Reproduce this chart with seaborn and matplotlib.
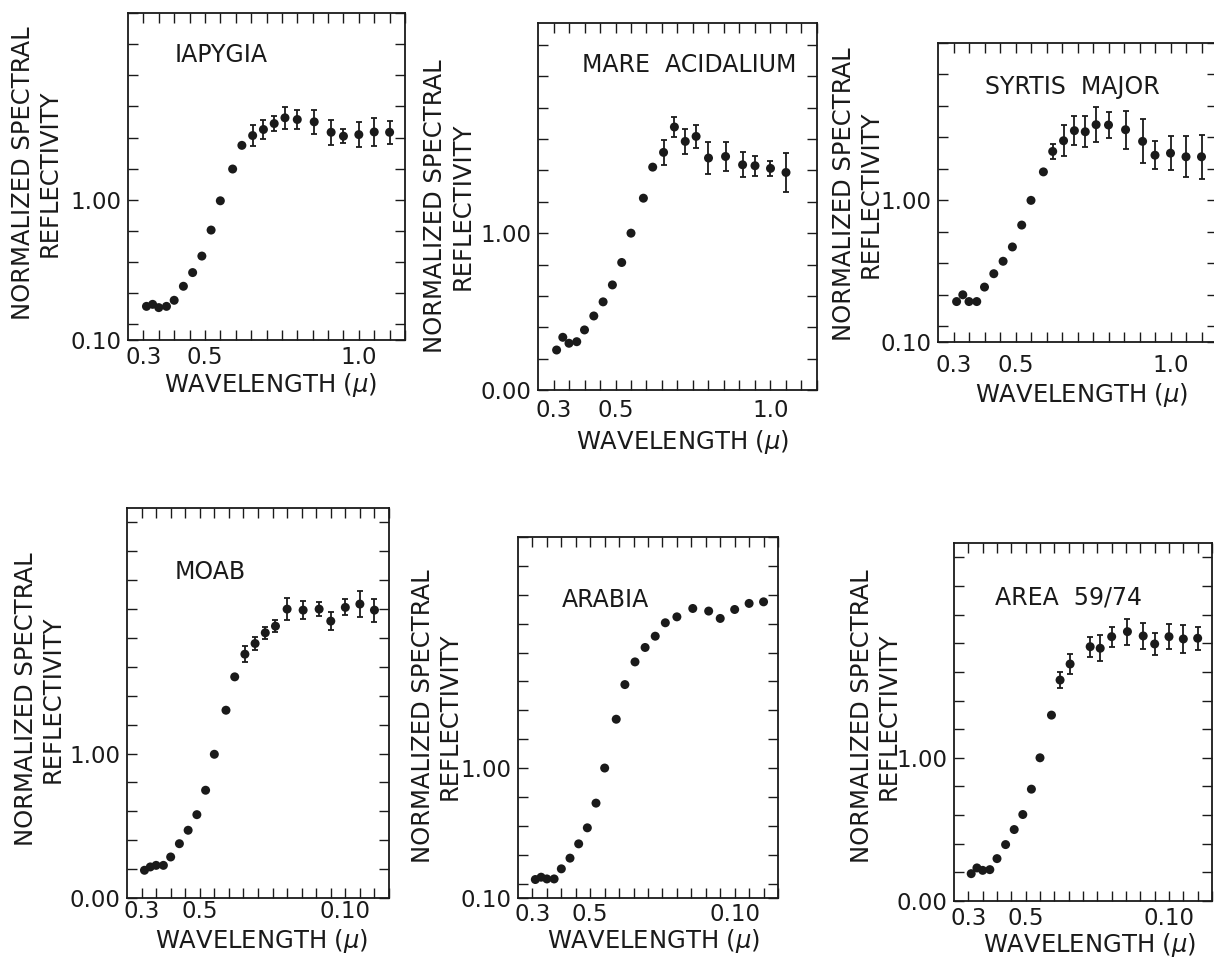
import numpy as np
import pandas as pd
import matplotlib
matplotlib.use("Agg")
import matplotlib.pyplot as plt
import seaborn as sns

# ---------------- data ----------------
wl_full = [0.31, 0.33, 0.35, 0.375, 0.40, 0.43, 0.46, 0.49, 0.52, 0.55, 0.59, 0.62,
           0.655, 0.69, 0.725, 0.76, 0.80, 0.855, 0.91, 0.95, 1.00, 1.05, 1.10]

iapygia_wl = wl_full
iapygia_refl = [0.316, 0.329, 0.308, 0.316, 0.355, 0.445, 0.533, 0.639, 0.806, 0.994, 1.198, 1.350,
                1.413, 1.452, 1.490, 1.527, 1.516, 1.501, 1.434, 1.409, 1.419, 1.436, 1.434]
iapygia_err = [0] * 12 + [0.065, 0.06, 0.05, 0.07, 0.06, 0.075, 0.08, 0.045, 0.08, 0.09, 0.075]

acidalium_wl = wl_full[:-1]
acidalium_refl = [0.255, 0.336, 0.298, 0.308, 0.383, 0.472, 0.562, 0.670, 0.813, 1.000, 1.223, 1.421,
                  1.515, 1.677, 1.585, 1.617, 1.479, 1.489, 1.436, 1.430, 1.413, 1.387]
acidalium_err = [0] * 12 + [0.08, 0.065, 0.08, 0.075, 0.10, 0.09, 0.08, 0.065, 0.05, 0.125]

syrtis_wl = wl_full
syrtis_refl = [0.357, 0.400, 0.357, 0.357, 0.449, 0.534, 0.613, 0.704, 0.843, 1.000, 1.181, 1.311,
               1.379, 1.443, 1.436, 1.481, 1.479, 1.449, 1.375, 1.287, 1.300, 1.277, 1.277]
syrtis_err = [0] * 11 + [0.05, 0.10, 0.09, 0.10, 0.11, 0.08, 0.12, 0.14, 0.09, 0.11, 0.13, 0.14]

moab_wl = wl_full
moab_refl = [0.192, 0.215, 0.226, 0.226, 0.284, 0.376, 0.469, 0.577, 0.746, 0.995, 1.300, 1.531,
             1.688, 1.762, 1.836, 1.882, 2.000, 1.993, 2.000, 1.917, 2.012, 2.035, 1.993]
moab_err = [0] * 12 + [0.055, 0.045, 0.04, 0.04, 0.075, 0.06, 0.05, 0.06, 0.055, 0.087, 0.08]

arabia_wl = wl_full
arabia_refl = [0.228, 0.244, 0.232, 0.232, 0.302, 0.376, 0.475, 0.586, 0.757, 1.000, 1.338, 1.578,
               1.735, 1.835, 1.913, 2.006, 2.047, 2.105, 2.087, 2.036, 2.098, 2.140, 2.151]
arabia_err = [0] * 23

area_wl = [w for w in wl_full if w != 0.69]
area_refl = [0.191, 0.231, 0.214, 0.219, 0.296, 0.394, 0.499, 0.604, 0.781, 1.000, 1.298, 1.543,
             1.655, 1.776, 1.765, 1.846, 1.881, 1.851, 1.795, 1.846, 1.830, 1.835]
area_err = [0] * 11 + [0.057, 0.07, 0.07, 0.09, 0.07, 0.09, 0.09, 0.08, 0.086, 0.10, 0.08]

titles = ["IAPYGIA", "MARE  ACIDALIUM", "SYRTIS  MAJOR", "MOAB", "ARABIA", "AREA  59/74"]
xtick_labels_top = ["0.3", "0.5", "1.0"]
xtick_labels_bottom = ["0.3", "0.5", "0.10"]
xtick_label_values = [0.3, 0.5, 1.0]
ybottom_labels = ["0.10", "0.00", "0.10", "0.00", "0.10", "0.00"]
ylabel_text = "NORMALIZED SPECTRAL\nREFLECTIVITY"
xlabel_text = r"WAVELENGTH ($\mu$)"

# ---------------- layout ----------------
W, H = 1214, 957
sns.set_style("ticks")
plt.rcParams["font.family"] = ["DejaVu Sans"]
plt.rcParams["mathtext.fontset"] = "dejavusans"
INK = "#1a1a1a"

fig = plt.figure(figsize=(W / 100, H / 100), dpi=100)
fig.patch.set_facecolor("white")

def px_axes(x0, y0, x1, y1):
    return [x0 / W, 1 - y1 / H, (x1 - x0) / W, (y1 - y0) / H]

panels = [
    dict(wl=iapygia_wl, refl=iapygia_refl, err=iapygia_err, box=(128, 13, 405, 340),
         ylim=(0.1, 2.2), title_pos=(0.17, 0.872), ylab=(-0.33, 0.51), xlab=(0.516, -0.138),
         top=True, xpad=4.3),
    dict(wl=acidalium_wl, refl=acidalium_refl, err=acidalium_err, box=(538, 23, 817, 390),
         ylim=(0.0, 2.34), title_pos=(0.158, 0.886), ylab=(-0.32, 0.5), xlab=(0.52, -0.142),
         top=True, xpad=6.5),
    dict(wl=syrtis_wl, refl=syrtis_refl, err=syrtis_err, box=(938, 43, 1217, 342),
         ylim=(0.1, 2.0), title_pos=(0.168, 0.853), ylab=(-0.29, 0.495), xlab=(0.516, -0.177),
         top=True, xpad=8.5),
    dict(wl=moab_wl, refl=moab_refl, err=moab_err, box=(127, 508, 389, 898),
         ylim=(0.0, 2.7), title_pos=(0.183, 0.836), ylab=(-0.336, 0.51), xlab=(0.515, -0.11),
         top=False, xpad=1.5),
    dict(wl=arabia_wl, refl=arabia_refl, err=arabia_err, box=(518, 537, 778, 898),
         ylim=(0.1, 2.6), title_pos=(0.169, 0.825), ylab=(-0.315, 0.504), xlab=(0.52, -0.12),
         top=False, xpad=3.5),
    dict(wl=area_wl, refl=area_refl, err=area_err, box=(954, 543, 1212, 901),
         ylim=(0.0, 2.5), title_pos=(0.159, 0.849), ylab=(-0.306, 0.517), xlab=(0.527, -0.124),
         top=False, xpad=4.0),
]

XLIM = (0.25, 1.15)

for i, p in enumerate(panels):
    ax = fig.add_axes(px_axes(*p["box"]))
    df = pd.DataFrame({"wavelength": p["wl"], "reflectivity": p["refl"], "err": p["err"]})
    sns.scatterplot(data=df, x="wavelength", y="reflectivity", ax=ax, color=INK,
                    s=42, edgecolor="none", linewidth=0, zorder=3, legend=False)
    e = df[df["err"] > 0]
    if len(e):
        ax.errorbar(e["wavelength"], e["reflectivity"], yerr=e["err"], fmt="none",
                    ecolor=INK, elinewidth=1.3, capsize=2.4, capthick=1.3, zorder=2)
    ax.set_xlim(*XLIM)
    ax.set_ylim(*p["ylim"])

    # x ticks every 0.05 micron, labels only at 0.3, 0.5, 1.0
    xt = np.round(np.arange(0.30, 1.151, 0.05), 3)
    labels_src = xtick_labels_top if p["top"] else xtick_labels_bottom
    xl = []
    for v in xt:
        lab = ""
        for val, txt in zip(xtick_label_values, labels_src):
            if abs(v - val) < 1e-6:
                lab = txt
        xl.append(lab)
    ax.set_xticks(xt)
    ax.set_xticklabels(xl)

    # y ticks every 0.2, labels at bottom and 1.00
    ybot = p["ylim"][0]
    yt = list(np.round(np.arange(0.2, p["ylim"][1] + 0.001, 0.2), 3))
    yt = [ybot] + [v for v in yt if v > ybot + 1e-6]
    yl = []
    for v in yt:
        if abs(v - ybot) < 1e-6:
            yl.append(ybottom_labels[i])
        elif abs(v - 1.0) < 1e-6:
            yl.append("1.00")
        else:
            yl.append("")
    ax.set_yticks(yt)
    ax.set_yticklabels(yl)

    ax.tick_params(axis="both", which="major", direction="in", length=7, width=1.0,
                   top=True, right=True, colors=INK, labelsize=16.5, pad=4.5)
    ax.tick_params(axis="x", pad=p["xpad"])
    for sp in ax.spines.values():
        sp.set_visible(True)
        sp.set_linewidth(1.3)
        sp.set_color(INK)

    ax.set_ylabel(ylabel_text, fontsize=17.5, color=INK, linespacing=1.15, ha="center", va="center")
    ax.yaxis.set_label_coords(*p["ylab"])
    ax.set_xlabel(xlabel_text, fontsize=17.5, color=INK, ha="center", va="center")
    ax.xaxis.set_label_coords(*p["xlab"])

    ax.text(p["title_pos"][0], p["title_pos"][1], titles[i], transform=ax.transAxes,
            fontsize=17, color=INK, ha="left", va="center")

fig.savefig("out.png", dpi=100, facecolor="white")
